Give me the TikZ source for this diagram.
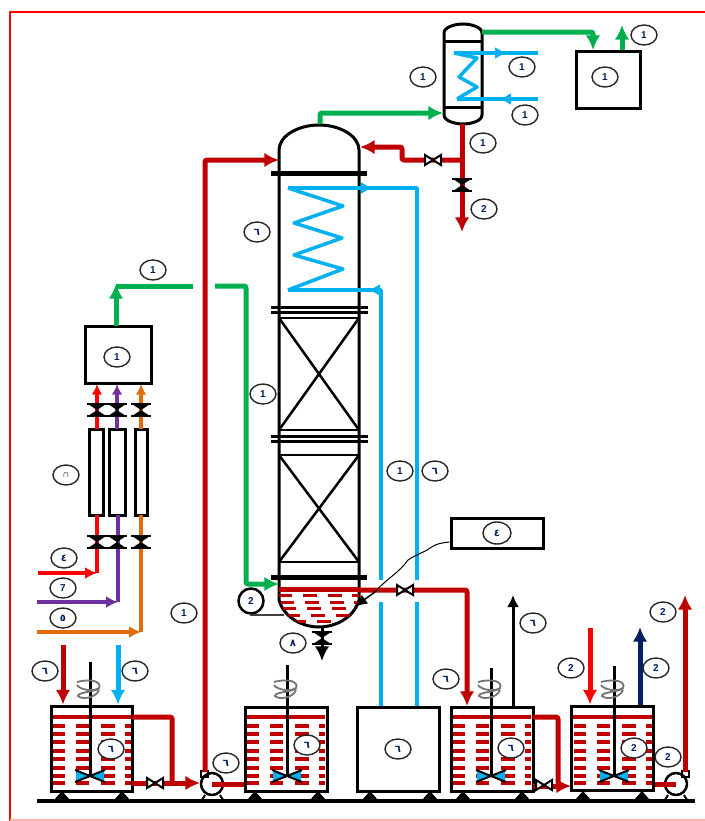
\documentclass[tikz,border=0pt]{standalone}
\usepackage{fontspec}
\setmainfont{Liberation Sans}
\newfontfamily\arfont[Script=Arabic]{DejaVu Sans}
\usetikzlibrary{arrows.meta,shapes.geometric}
\newlength\px \setlength\px{0.75pt}
\definecolor{dred}{HTML}{C00000}
\definecolor{bred}{HTML}{FF0000}
\definecolor{cblue}{HTML}{00B0F0}
\definecolor{cgreen}{HTML}{00B050}
\definecolor{cpurple}{HTML}{7030A0}
\definecolor{corange}{HTML}{E36C0A}
\definecolor{cnavy}{HTML}{002060}
\newcommand{\sixd}{{\arfont ٦}}
\newcommand{\fourd}{{\arfont ٤}}
\newcommand{\fived}{{\arfont ٥}}
\newcommand{\eightd}{{\arfont ٨}}
\tikzset{
  lab/.style={ellipse,draw=black!85,line width=1.4\px,fill=white,minimum width=26\px,minimum height=20\px,inner sep=0pt,text=cnavy,font=\fontsize{7.5pt}{8pt}\selectfont\bfseries},
  vessel/.style={draw=black,line width=3\px,fill=white,inner sep=0pt,rectangle},
  meter/.style={draw=black,line width=3\px,fill=white,inner sep=0pt,rectangle},
  pipeB/.style={line width=5\px,line join=round},
  pipeM/.style={line width=3.5\px,line join=round},
  tipL/.style={-{Latex[length=11pt,width=11pt]}},
  tipM/.style={-{Latex[length=9pt,width=9pt]}},
  tipS/.style={-{Latex[length=8pt,width=8pt]}},
  valveh/.pic={\draw[black,line width=2\px,fill=white] (-8,-5) -- (8,5) -- (8,-5) -- (-8,5) -- cycle;},
  valvev/.pic={\fill[black] (-9,-6) -- (9,-6) -- (-9,6) -- (9,6) -- cycle;
               \draw[black,line width=2\px] (-10,-6) -- (10,-6) (-10,6) -- (10,6);},
  wall/.style={draw=black,line width=3\px},
  flange/.style={draw=black,line width=5\px}
}
\newcommand{\liquid}[2]{%
  \begin{scope}[shift={(#1,0)}]
    \foreach \yy in {726,734,742,751,759,768,776,783}{
      \draw[dred,line width=3.2\px] (2,\yy) -- (14,\yy) (25,\yy) -- (38,\yy) (50,\yy) -- (64,\yy) (74,\yy) -- (80,\yy);
    }
    \draw[dred,line width=3.2\px] (1,717) -- (80,717);
  \end{scope}}
\newcommand{\agit}[2]{%
  \begin{scope}[shift={(#1,0)}]
    \fill[cblue] (0,776) -- (-14,771) -- (-14,781) -- cycle;
    \fill[cblue] (0,776) -- (14,771) -- (14,781) -- cycle;
    \draw[black,line width=2\px] (-15,770) -- (15,782) (-15,782) -- (15,770);
    \draw[black,line width=3\px] (0,#2) -- (0,777);
    \draw[black!55,line width=1.8\px] (-13,682) .. controls (2,678) and (12,682) .. (9,688) .. controls (4,692) and (-10,690) .. (-13,685);
    \draw[black!55,line width=1.8\px] (9,688) .. controls (6,692) and (-13,692) .. (-12,696) .. controls (-8,700) and (6,698) .. (9,690);
  \end{scope}}
\newcommand{\legs}[2]{%
  \fill[black] (#1-8,800) -- (#1,791) -- (#1+8,800) -- cycle;
  \fill[black] (#2-8,800) -- (#2,791) -- (#2+8,800) -- cycle;}
\begin{document}
\begin{tikzpicture}[x=\px,y=-\px]
\useasboundingbox (0,0) rectangle (705,821);
\fill[white] (0,0) rectangle (705,821);
% frame
\draw[bred,line width=2\px] (705,11.5) -- (10,11.5) -- (10,821);
\draw[bred!30,line width=1.5\px] (10,820) -- (705,820);

% ground
\coordinate (gl) at (37,801);
\coordinate (gr) at (695,801);
\draw[black,line width=4\px] (gl) -- (gr);
\legs{62}{122}\legs{255}{318}\legs{370}{430}\legs{463}{522}\legs{583}{642}

% column body
\fill[white] (279,150) rectangle (359,590);
\draw[wall] (279,174) -- (279,150) .. controls (279,136) and (298,125) .. (319,125) .. controls (340,125) and (359,136) .. (359,150) -- (359,174);
\draw[wall] (279,174) -- (279,600) .. controls (284,618) and (303,627) .. (319,627) .. controls (335,627) and (354,618) .. (359,600) -- (359,174);
% column liquid
\begin{scope}
\clip (279,590) -- (279,600) .. controls (284,618) and (303,627) .. (319,627) .. controls (335,627) and (354,618) .. (359,600) -- (359,590) -- cycle;
\foreach \yy/\ss in {595/0,602/2,608/4,615/8,621/14}{
  \draw[dred,line width=3\px] (279+\ss,\yy) -- (292+\ss,\yy) (303+\ss,\yy) -- (317+\ss,\yy) (328+\ss,\yy) -- (342+\ss,\yy) (352+\ss,\yy) -- (359+\ss,\yy);
}
\end{scope}
\draw[flange] (271,173) -- (367,173);
\draw[flange,line width=3\px] (271,307) -- (368,307) (271,312) -- (368,312);
\draw[black,line width=2.5\px] (279,318) -- (359,318) (279,430) -- (359,430) (279,455) -- (359,455) (279,562) -- (359,562);
\draw[black,line width=2.5\px] (279,318) -- (359,430) (359,318) -- (279,430) (279,455) -- (359,562) (359,455) -- (279,562);
\draw[flange,line width=3\px] (271,436) -- (368,436) (271,441) -- (368,441);
\draw[flange] (271,577) -- (367,577);

% column coil
\coordinate (coilT) at (288,188);
\coordinate (coilB) at (288,290);
\coordinate (coilTr) at (417,188);
\coordinate (coilBr) at (381,290);
\node[vessel,minimum width=82\px,minimum height=84\px] (storage) at (398,749) {};
\coordinate (bt1) at (381,580); \coordinate (bt2) at (381,602);
\coordinate (bt3) at (417,580); \coordinate (bt4) at (417,602);
\draw[cblue,pipeM] (coilT) -- (343,206) -- (294,223) -- (342,238) -- (294,255) -- (343,269) -- (coilB);
\draw[cblue,pipeM] (360,188) -- (coilTr) -- (bt3);
\draw[cblue,pipeM,tipM] (coilT) -- (373,188);
\draw[cblue,pipeM] (bt4) -- (bt4 |- storage.north);
\draw[cblue,pipeM] (coilB) -- (coilBr) -- (bt1);
\draw[cblue,pipeM,tipM] (coilBr) -- (368,290);
\draw[cblue,pipeM] (bt2) -- (bt2 |- storage.north);

% condenser
\fill[white] (444,33) rectangle (482,115);
\draw[wall] (444,33) .. controls (444,27) and (455,24) .. (463,24) .. controls (471,24) and (482,27) .. (482,33) -- (482,115) .. controls (482,121) and (471,124) .. (463,124) .. controls (455,124) and (444,121) .. (444,115) -- cycle;
\draw[black,line width=3\px] (444,41) -- (482,41) (444,107) -- (482,107);
\coordinate (cnT) at (454,53);
\coordinate (cnB) at (457,99);
\coordinate (cnTr) at (538,53);
\coordinate (cnBr) at (538,99);
\draw[cblue,pipeM] (cnT) -- (477,58) -- (459,77) -- (477,87) -- (cnB);
\draw[cblue,pipeM] (cnT) -- (cnTr);
\draw[cblue,pipeM] (cnB) -- (cnBr);
\draw[cblue,pipeM,tipM] (cnT) -- (507,53);
\draw[cblue,pipeM,tipM] (cnBr) -- (499,99);

% receiver box top right
\node[vessel,minimum width=64\px,minimum height=57\px] (recv) at (608,80) {};
\coordinate (recvOut) at (622,25);
\coordinate (cnOut) at (482,32);
\draw[cgreen,pipeB,tipL,rounded corners=2\px] (cnOut) -- (593,32) -- (593,50);
\draw[cgreen,pipeB,tipL] (recvOut |- recv.north) -- (recvOut);
\coordinate (colTop) at (320,124);
\coordinate (cnIn) at (443,113);
\draw[cgreen,pipeB,tipL,rounded corners=2\px] (colTop) -- (320,113) -- (cnIn);

% reflux
\coordinate (cnBot) at (462,124);
\coordinate (prod) at (462,232);
\coordinate (tee) at (462,160);
\coordinate (colRefl) at (360,147);
\draw[dred,pipeB,tipL] (cnBot) -- (prod);
\draw[dred,pipeB,tipL,rounded corners=2\px] (tee) -- (402,160) -- (402,147) -- (colRefl);
\pic at (433,160) {valveh};
\pic at (462,185) {valvev};

% green feed line
\node[vessel,minimum width=66\px,minimum height=57\px] (mix) at (118,354.5) {};
\coordinate (gj) at (193,286);
\coordinate (gk) at (215,286);
\coordinate (colIn) at (279,584);
\draw[cgreen,pipeB] (116,286) -- (gj);
\draw[cgreen,pipeB,tipL] (116,326) -- (116,284);
\draw[cgreen,pipeB,tipL,rounded corners=2\px] (gk) -- (246,286) -- (246,584) -- (colIn);

% red line to column
\node[circle,draw=black,line width=2.5\px,fill=white,minimum size=22\px,inner sep=0pt] (pump1) at (212,784) {};
\draw[black,line width=2\px] (201,771) rectangle (208,777);
\draw[black,line width=2\px] (205,795) -- (202,800) (220,795) -- (223,800);
\coordinate (colFeed) at (279,160);
\draw[dred,pipeB,tipL,rounded corners=2\px] (205,772) -- (205,160) -- (colFeed);

% flow meters
\node[meter,minimum width=14\px,minimum height=86\px] (fm1) at (96,472) {};
\node[meter,minimum width=16\px,minimum height=86\px] (fm2) at (117,472) {};
\node[meter,minimum width=12\px,minimum height=86\px] (fm3) at (141,472) {};
\coordinate (r0) at (38,573);
\coordinate (p0) at (37,602);
\coordinate (o0) at (37,632);
\coordinate (rc) at (97,573);
\coordinate (pc) at (118,602);
\coordinate (oc) at (141,632);
\draw[bred,pipeM,tipS] (97,429) -- (97,384);
\draw[cpurple,pipeM,tipS] (117,429) -- (117,384);
\draw[corange,pipeM,tipS] (141,429) -- (141,384);
\draw[bred,pipeM] (rc) -- (97,515);
\draw[bred,pipeM,tipM] (r0) -- (rc);
\draw[cpurple,pipeM] (pc) -- (118,515);
\draw[cpurple,pipeM,tipM] (p0) -- (pc);
\draw[corange,pipeM] (oc) -- (141,515);
\draw[corange,pipeM,tipM] (o0) -- (oc);
\foreach \xx in {97,117,141}{\pic at (\xx,410) {valvev}; \pic at (\xx,542) {valvev};}

% tanks
\node[vessel,minimum width=81\px,minimum height=85\px] (t1) at (91.5,748.5) {};
\node[vessel,minimum width=82\px,minimum height=84\px] (t2) at (286,749) {};
\node[vessel,minimum width=82\px,minimum height=84\px] (t3) at (492,749) {};
\node[vessel,minimum width=82\px,minimum height=84\px] (t4) at (612,748) {};
\liquid{51}{726}\liquid{245}{726}\liquid{451}{726}\liquid{572}{726}
\agit{90}{662}\agit{287}{665}\agit{491}{668}\agit{614}{666}
\node[vessel,fill=none,minimum width=81\px,minimum height=85\px] at (t1) {};
\node[vessel,fill=none,minimum width=82\px,minimum height=84\px] at (t2) {};
\node[vessel,fill=none,minimum width=82\px,minimum height=84\px] at (t3) {};
\node[vessel,fill=none,minimum width=82\px,minimum height=84\px] at (t4) {};

% T1 pipes
\coordinate (a1) at (63,645);
\coordinate (a2) at (118,645);
\draw[dred,pipeB,tipL] (a1) -- (a1 |- t1.north);
\draw[cblue,pipeB,tipL] (a2) -- (a2 |- t1.north);
\coordinate (t1o) at (132,783);
\coordinate (pin) at (200,783);
\draw[dred,pipeB,rounded corners=2\px] (132,717) -- (172,717) -- (172,783);
\draw[dred,pipeB,tipL] (t1o) -- (pin);
\pic at (155,783) {valveh};
\draw[dred,pipeB] (pump1.center) -- (t2.west |- pump1.center);

% column bottom, level gauge
\coordinate (drain) at (322,661);
\draw[black,line width=3\px,tipL] (322,627) -- (drain);
\pic at (322,638) {valvev};
\node[circle,draw=black,line width=2.5\px,fill=white,minimum size=25\px,inner sep=0pt,text=cnavy,font=\fontsize{7.5pt}{8pt}\selectfont\bfseries] (lvl) at (251,601) {2};
\draw[black!75,line width=1.8\px] (lvl.south) -- (251,615) -- (284,615);

% column outlet to T3
\coordinate (cOut) at (279,589);
\draw[dred,pipeB] (cOut) -- (359,589);
\draw[dred,pipeB,tipL,rounded corners=2\px] (359,590) -- (467,590) -- (467,706);
\pic at (405,590) {valveh};

% analyser
\node[vessel,minimum width=92\px,minimum height=30\px] (ana) at (497,533) {};
\draw[black,line width=1\px] (ana.west |- 0,542) .. controls (440,543) and (436,544) .. (430,548) .. controls (425,552) and (415,555) .. (408,560) .. controls (400,572) and (385,580) .. (375,592);
\draw[black,line width=1.5\px,-{Latex[length=10pt,width=8pt]}] (375,592) -- (354,607);

% T3 pipes
\coordinate (t3up) at (513,595);
\draw[black,line width=3\px,tipM] (t3up |- t3.north) -- (t3up);
\draw[dred,pipeB,rounded corners=2\px] (533,717) -- (558,717) -- (558,785);
\coordinate (t4in) at (571,786);
\draw[dred,pipeB,tipL] (533,786) -- (t4in);
\pic at (544,785) {valveh};

% T4 pipes
\coordinate (b1) at (590,628);
\coordinate (b2) at (640,627);
\draw[bred,pipeB,tipL] (b1) -- (b1 |- t4.north);
\draw[cnavy,pipeB,tipL] (b2 |- t4.north) -- (b2);
\node[circle,draw=black,line width=2.5\px,fill=white,minimum size=22\px,inner sep=0pt] (pump2) at (676,784) {};
\draw[black,line width=2\px] (682,771) rectangle (689,777);
\draw[black,line width=2\px] (668,795) -- (665,800) (684,795) -- (687,800);
\draw[dred,pipeB] (t4.east |- pump2.center) -- (pump2.center);
\coordinate (up2) at (685,595);
\draw[dred,pipeB,tipL] (685,772) -- (up2);

% labels
\node[lab] (l01) at (423,77) {1};
\node[lab] (l02) at (522,67) {1};
\node[lab] (l03) at (525,115) {1};
\node[lab] (l04) at (483,143) {1};
\node[lab] (l05) at (484,209) {2};
\node[lab] (l06) at (605,77) {1};
\node[lab] (l07) at (644,35) {1};
\node[lab] (l08) at (257,232) {\sixd};
\node[lab] (l09) at (153,270) {1};
\node[lab] (l10) at (117,357) {1};
\node[lab] (l11) at (263,394) {1};
\node[lab] (l12) at (400,471) {1};
\node[lab] (l13) at (435,471) {\sixd};
\node[lab] (l14) at (66,475) {∩};
\node[lab] (l15) at (64,558) {\fourd};
\node[lab] (l16) at (63,588) {7};
\node[lab] (l17) at (63,618) {\fived};
\node[lab] (l18) at (184,613) {1};
\node[lab] (l19) at (293,643) {\eightd};
\node[lab] (l20) at (45,671) {\sixd};
\node[lab] (l21) at (135,671) {\sixd};
\node[lab] (l22) at (111,749) {\sixd};
\node[lab] (l23) at (226,763) {\sixd};
\node[lab] (l24) at (307,745) {\sixd};
\node[lab] (l25) at (398,749) {\sixd};
\node[lab] (l26) at (446,679) {\sixd};
\node[lab] (l27) at (511,748) {\sixd};
\node[lab] (l28) at (533,623) {\sixd};
\node[lab] (l29) at (571,668) {2};
\node[lab] (l30) at (656,668) {2};
\node[lab] (l31) at (634,748) {2};
\node[lab] (l32) at (668,757) {2};
\node[lab] (l33) at (663,612) {2};
\node[lab,minimum width=28\px,minimum height=22\px] (l34) at (497,533) {\fourd};
\end{tikzpicture}
\end{document}
